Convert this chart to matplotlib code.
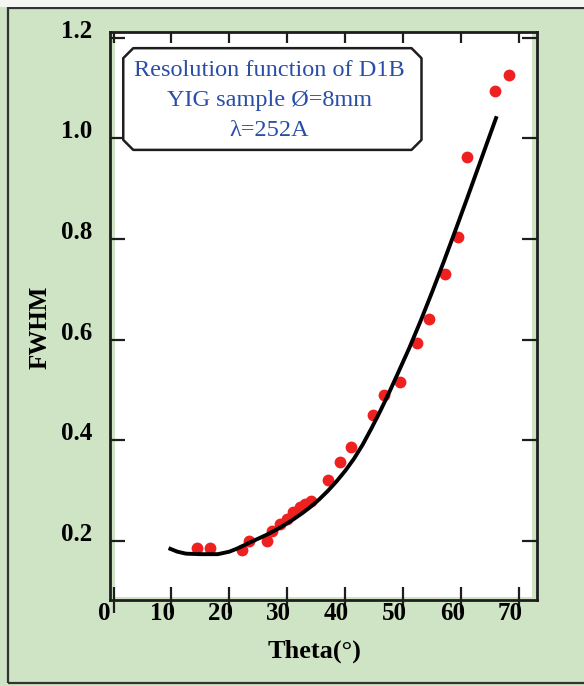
import matplotlib
matplotlib.use("Agg")
import matplotlib.pyplot as plt
from matplotlib.patches import Rectangle, Polygon
from matplotlib.transforms import ScaledTranslation

# measured points (Theta in deg, FWHM in deg)
theta_obs = [14.4, 16.7, 22.1, 23.3, 26.4, 27.3, 28.7, 29.9, 31.0, 32.2, 33.0,
             34.1, 37.0, 39.0, 40.9, 44.7, 46.6, 49.5, 52.4, 54.5, 57.2, 59.5,
             60.9, 65.8, 68.2]
fwhm_obs = [0.187, 0.187, 0.182, 0.200, 0.200, 0.221, 0.234, 0.244, 0.258,
            0.268, 0.274, 0.280, 0.321, 0.357, 0.387, 0.450, 0.491, 0.517,
            0.594, 0.642, 0.730, 0.805, 0.963, 1.095, 1.126]

# fitted resolution curve
theta_fit = [9.5, 11, 12.5, 15, 18, 20, 21.5, 23.3, 25, 26.5, 28, 29.5, 31,
             32.5, 34, 35.5, 37, 38.5, 40, 41.5, 43, 44.5, 46, 47.5, 49, 51,
             53, 55, 57, 59, 61, 63, 65, 66.1]
fwhm_fit = [0.186, 0.179, 0.175, 0.174, 0.174, 0.179, 0.186, 0.196, 0.205,
            0.213, 0.222, 0.232, 0.243, 0.255, 0.268, 0.283, 0.300, 0.319,
            0.340, 0.364, 0.392, 0.424, 0.458, 0.494, 0.532, 0.583, 0.638,
            0.696, 0.756, 0.818, 0.881, 0.945, 1.009, 1.044]

x_ticks = [0, 10, 20, 30, 40, 50, 60, 70]
y_ticks = [0.2, 0.4, 0.6, 0.8, 1.0, 1.2]
box_lines = ["Resolution function of D1B", "YIG sample \u00d8=8mm",
             "\u03bb=252A"]

green = "#cfe4c4"
ink = "#1e1e1e"
serif = ["Liberation Serif", "DejaVu Serif"]

fig = plt.figure(figsize=(5.84, 6.86), dpi=100, facecolor=green)
# outer frame of the panel
fig.patches.append(Rectangle((8 / 584, 3 / 686), 1.2, 1 - 11 / 686,
                             transform=fig.transFigure, fill=False,
                             edgecolor="#333333", linewidth=1.6))
fig.patches.append(Rectangle((0, 1 - 7 / 686), 1, 7 / 686,
                             transform=fig.transFigure, facecolor="#f4f6f2",
                             edgecolor="none"))

ax = fig.add_axes([0.1884, 0.1254, 0.7306, 0.8284])
ax.set_facecolor(green)
ax.add_patch(Rectangle((0.012, 0.006), 0.976, 0.994, transform=ax.transAxes,
                       facecolor="white", edgecolor="none", zorder=0))

ax.plot(theta_fit, fwhm_fit, color="black", linewidth=2.8, zorder=3,
        solid_capstyle="butt", solid_joinstyle="round")
ax.plot(theta_obs, fwhm_obs, "o", color="#ee2020", markersize=8.5,
        markeredgewidth=0, zorder=2)

ax.set_xlim(-0.6, 73.0)
ax.set_ylim(0.083, 1.212)
ax.set_xticks(x_ticks)
ax.set_yticks(y_ticks)
ax.set_xticklabels([str(v) for v in x_ticks])
ax.set_yticklabels([f"{v:.1f}" for v in y_ticks])

for s in ax.spines.values():
    s.set_linewidth(2)
    s.set_color(ink)

ax.tick_params(axis="y", direction="in", length=11, width=1.6, color=ink,
               right=True, pad=13)
ax.tick_params(axis="x", direction="inout", length=19, width=1.6, color=ink,
               top=False, pad=-8)
top = ax.secondary_xaxis("top")
top.set_xticks(x_ticks)
top.tick_params(direction="in", length=8, width=1.6, color=ink,
                labeltop=False)
top.spines["top"].set_visible(False)

for lab in ax.get_xticklabels():
    lab.set_transform(lab.get_transform() +
                      ScaledTranslation(-0.09, 0, fig.dpi_scale_trans))
for lab in ax.get_yticklabels():
    lab.set_transform(lab.get_transform() +
                      ScaledTranslation(0, 0.09, fig.dpi_scale_trans))
for lab in ax.get_xticklabels() + ax.get_yticklabels():
    lab.set_fontfamily(serif)
    lab.set_fontweight("bold")
    lab.set_fontsize(18)
    lab.set_color("black")

ax.set_xlabel("Theta(\u00b0)", fontfamily=serif, fontweight="bold",
              fontsize=19, color="black", va="center")
ax.xaxis.set_label_coords(0.48, -0.09)
ax.set_ylabel("FWHM", fontfamily=serif, fontweight="bold", fontsize=18,
              color="black", va="center")
ax.yaxis.set_label_coords(-0.164, 0.479)

# label box with cut corners
bx0, bx1, by0, by1 = 0.031, 0.730, 0.792, 0.971
cx, cy = 0.0234, 0.0176
corners = [(bx0 + cx, by1), (bx1 - cx, by1), (bx1, by1 - cy), (bx1, by0 + cy),
           (bx1 - cx, by0), (bx0 + cx, by0), (bx0, by0 + cy), (bx0, by1 - cy)]
ax.add_patch(Polygon(corners, closed=True, transform=ax.transAxes,
                     facecolor="white", edgecolor=ink, linewidth=1.8,
                     joinstyle="round", zorder=4))
ax.text(0.373, 0.879, "\n".join(box_lines), transform=ax.transAxes,
        ha="center", va="center", fontfamily=serif, fontsize=17.5,
        color="#2a4ea6", linespacing=1.55, zorder=5)

fig.savefig("out.png", dpi=100, facecolor=green)
